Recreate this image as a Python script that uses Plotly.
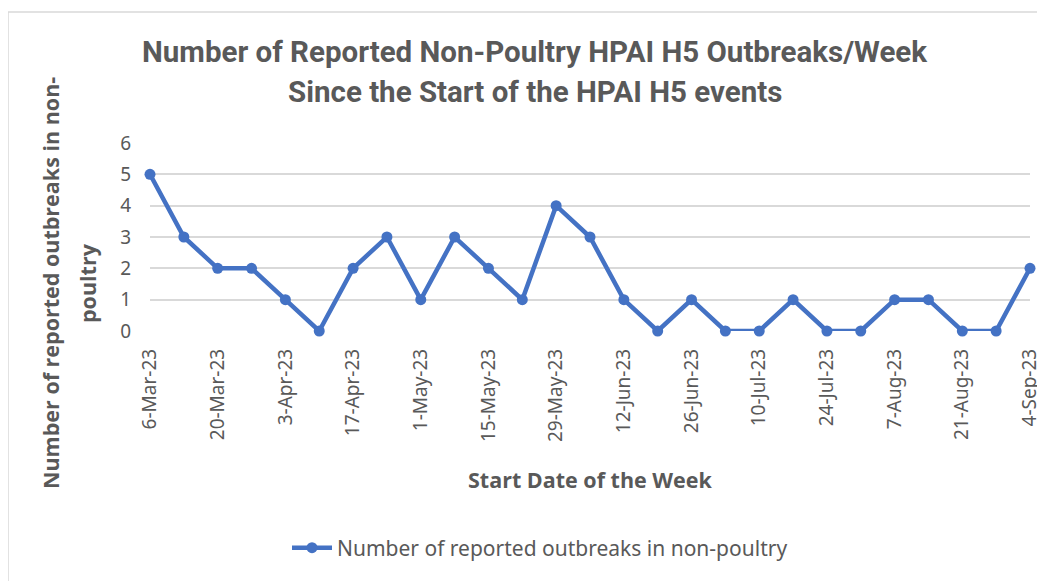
import plotly.graph_objects as go

weeks = ["6-Mar-23","13-Mar-23","20-Mar-23","27-Mar-23","3-Apr-23","10-Apr-23","17-Apr-23","24-Apr-23",
         "1-May-23","8-May-23","15-May-23","22-May-23","29-May-23","5-Jun-23","12-Jun-23","19-Jun-23",
         "26-Jun-23","3-Jul-23","10-Jul-23","17-Jul-23","24-Jul-23","31-Jul-23","7-Aug-23","14-Aug-23",
         "21-Aug-23","28-Aug-23","4-Sep-23"]
outbreaks = [5,3,2,2,1,0,2,3,1,3,2,1,4,3,1,0,1,0,0,1,0,0,1,1,0,0,2]
tick_labels = weeks[::2]
y_ticks = [0,1,2,3,4,5,6]

W, H = 1045, 581
OFF = 8  # page body margin
# plot area in screen pixels
SL, SR, ST, SB = 150, 1030, 143, 331
L, R, T, B = SL - OFF, SR - OFF, ST - OFF, SB - OFF

def px(x): return (x - SL) / (SR - SL)
def py(y): return (SB - y) / (SB - ST)

grey = "#595959"
fig = go.Figure()
fig.add_trace(go.Scatter(
    x=weeks, y=outbreaks, mode="lines+markers",
    name="Number of reported outbreaks in non-poultry",
    line=dict(color="#4472C4", width=4.5),
    marker=dict(color="#4472C4", size=11),
    cliponaxis=False,
))
fig.update_layout(
    width=W, height=H,
    margin=dict(l=L, r=W - R, t=T, b=H - B),
    paper_bgcolor="white", plot_bgcolor="white",
    font=dict(family="Noto Sans", color=grey),
    showlegend=True,
    legend=dict(orientation="h", x=px(540), xanchor="center", y=py(548), yanchor="middle",
                font=dict(size=21, color=grey, family="Noto Sans"), itemwidth=40),
    xaxis=dict(type="category", categoryorder="array", categoryarray=weeks,
               range=[0, len(weeks) - 1], tickmode="array", tickvals=tick_labels, ticktext=tick_labels,
               tickangle=-90, tickfont=dict(size=19, color=grey), showgrid=False,
               showline=False, zeroline=False, ticks="", ticklabelstandoff=13),
    yaxis=dict(range=[0, 6], tickvals=y_ticks, tickfont=dict(size=19, color=grey),
               showgrid=True, gridcolor="#D9D9D9", gridwidth=1.5, zeroline=False,
               showline=False, ticks="", ticklabelstandoff=18),
)
title_font = dict(family="Roboto", size=29.5, color=grey, weight="bold")
fig.add_annotation(text="Number of Reported Non-Poultry HPAI H5 Outbreaks/Week", xref="paper", yref="paper",
                   x=px(535), y=py(52), xanchor="center", yanchor="middle", showarrow=False, font=title_font)
fig.add_annotation(text="Since the Start of the HPAI H5 events", xref="paper", yref="paper",
                   x=px(535), y=py(92), xanchor="center", yanchor="middle", showarrow=False, font=title_font)
axis_font = dict(family="Open Sans", size=21.5, color=grey, weight="bold")
fig.add_annotation(text="Start Date of the Week", xref="paper", yref="paper",
                   x=px(590), y=py(480), xanchor="center", yanchor="middle", showarrow=False, font=axis_font)
fig.add_annotation(text="Number of reported outbreaks in non-", xref="paper", yref="paper",
                   x=px(50), y=py(283), xanchor="center", yanchor="middle", showarrow=False, textangle=-90,
                   font=axis_font)
fig.add_annotation(text="poultry", xref="paper", yref="paper",
                   x=px(87), y=py(283), xanchor="center", yanchor="middle", showarrow=False, textangle=-90,
                   font=axis_font)
fig.add_shape(type="rect", xref="paper", yref="paper", x0=px(8), x1=px(1070), y0=py(12), y1=py(600),
              line=dict(color="#D9D9D9", width=1.5), fillcolor="rgba(0,0,0,0)", layer="below")
fig.write_html("out.html")
